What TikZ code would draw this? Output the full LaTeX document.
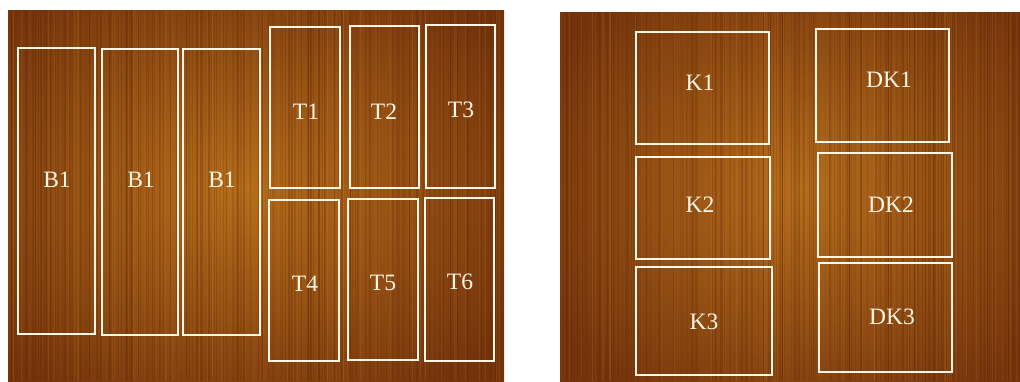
\documentclass[tikz,border=0pt]{standalone}
\usepackage{fontspec}
\setmainfont{Liberation Serif}
\usetikzlibrary{calc}

\definecolor{woodlight}{RGB}{182,110,28}
\definecolor{wooddark}{RGB}{118,52,12}
\definecolor{woodline}{RGB}{90,38,6}
\definecolor{woodshine}{RGB}{205,135,50}
\definecolor{chalk}{RGB}{252,246,228}

\tikzset{
  board/.style={draw=chalk,line width=1.8pt,inner sep=0pt},
  tag/.style={text=chalk,font=\fontsize{23.5}{23.5}\selectfont},
}

\begin{document}
\begin{tikzpicture}[x=1pt,y=-1pt]
\useasboundingbox (0,0) rectangle (1020,381);
\pgfmathsetseed{42}
% left panel
\begin{scope}
\clip (8,10) rectangle (504,381);
\shade[inner color=woodlight,outer color=wooddark] (-80,-60) rectangle (560,440);
\foreach \i in {1,...,260}{
  \pgfmathsetmacro{\xx}{8+496*rnd}
  \pgfmathsetmacro{\op}{0.08+0.22*rnd}
  \draw[woodline,opacity=\op,line width=0.6pt] (\xx,10) -- (\xx,381);
}
\foreach \i in {1,...,90}{
  \pgfmathsetmacro{\xx}{8+496*rnd}
  \pgfmathsetmacro{\op}{0.05+0.15*rnd}
  \draw[woodshine,opacity=\op,line width=0.5pt] (\xx,10) -- (\xx,381);
}
\end{scope}
% right panel
\begin{scope}
\clip (560,12) rectangle (1020,381);
\shade[inner color=woodlight,outer color=wooddark] (520,-70) rectangle (1080,450);
\foreach \i in {1,...,240}{
  \pgfmathsetmacro{\xx}{560+460*rnd}
  \pgfmathsetmacro{\op}{0.08+0.22*rnd}
  \draw[woodline,opacity=\op,line width=0.6pt] (\xx,12) -- (\xx,381);
}
\foreach \i in {1,...,80}{
  \pgfmathsetmacro{\xx}{560+460*rnd}
  \pgfmathsetmacro{\op}{0.05+0.15*rnd}
  \draw[woodshine,opacity=\op,line width=0.5pt] (\xx,12) -- (\xx,381);
}
\end{scope}

% boards, left
\node[board,minimum width=77pt,minimum height=286pt] (b1a) at (56.5,191) {};
\node[board,minimum width=76pt,minimum height=286pt] (b1b) at (140,192) {};
\node[board,minimum width=77pt,minimum height=286pt] (b1c) at (221.5,192) {};
\node[board,minimum width=70pt,minimum height=161pt] (t1) at (305,107.5) {};
\node[board,minimum width=69pt,minimum height=162pt] (t2) at (384.5,107) {};
\node[board,minimum width=69pt,minimum height=163pt] (t3) at (460.5,106.5) {};
\node[board,minimum width=70pt,minimum height=161pt] (t4) at (304,280.5) {};
\node[board,minimum width=70pt,minimum height=161pt] (t5) at (383,279.5) {};
\node[board,minimum width=69pt,minimum height=163pt] (t6) at (459.5,279.5) {};
% boards, right
\node[board,minimum width=133pt,minimum height=112pt] (k1) at (702.5,88) {};
\node[board,minimum width=133pt,minimum height=113pt] (dk1) at (882.5,85.5) {};
\node[board,minimum width=134pt,minimum height=102pt] (k2) at (703,208) {};
\node[board,minimum width=134pt,minimum height=104pt] (dk2) at (885,205) {};
\node[board,minimum width=136pt,minimum height=108pt] (k3) at (704,321) {};
\node[board,minimum width=133pt,minimum height=109pt] (dk3) at (885.5,317.5) {};

% labels
\node[tag] (lb1a) at (57,180) {B1};
\node[tag] (lb1b) at (141,180) {B1};
\node[tag] (lb1c) at (222,180) {B1};
\node[tag] (lt1) at (306,112) {T1};
\node[tag] (lt2) at (384,112) {T2};
\node[tag] (lt3) at (461,110) {T3};
\node[tag] (lt4) at (305,284) {T4};
\node[tag] (lt5) at (383,283) {T5};
\node[tag] (lt6) at (460,282) {T6};
\node[tag] (lk1) at (700,83) {K1};
\node[tag] (ldk1) at (889,80) {DK1};
\node[tag] (lk2) at (700,205) {K2};
\node[tag] (ldk2) at (891,205) {DK2};
\node[tag] (lk3) at (704,322) {K3};
\node[tag] (ldk3) at (892,317) {DK3};
\end{tikzpicture}
\end{document}
